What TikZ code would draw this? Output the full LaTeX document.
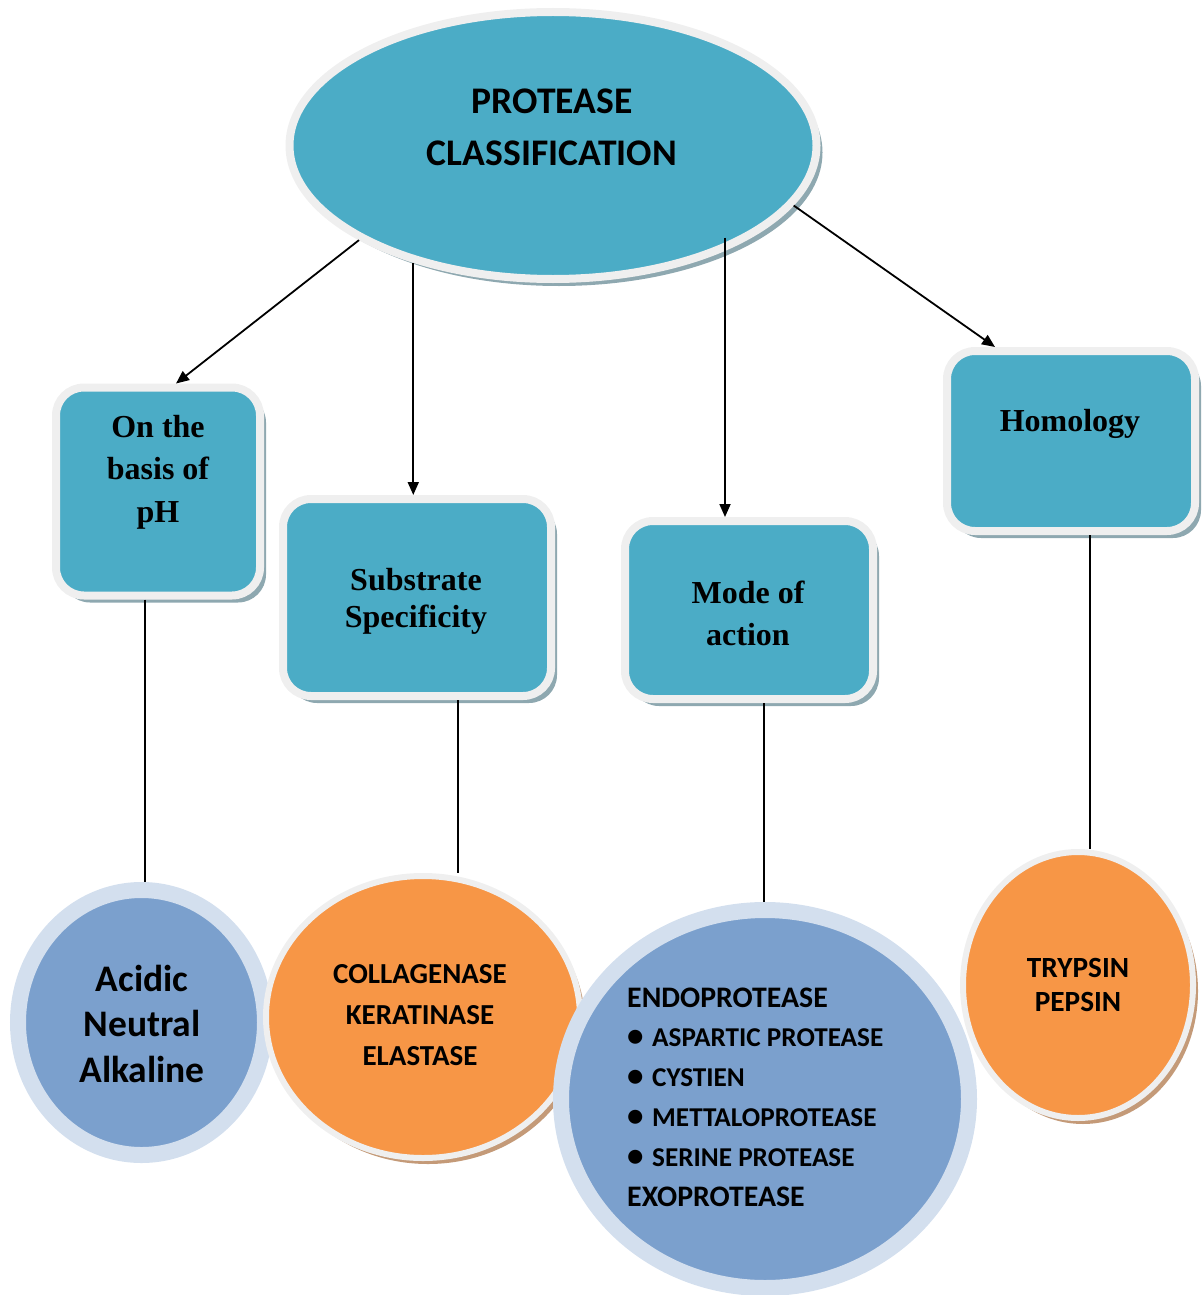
\documentclass[tikz,border=0pt]{standalone}
\usepackage{fontspec}
\setmainfont{Liberation Serif}
\newfontfamily\calfont{Carlito}
\usetikzlibrary{arrows.meta,shapes.geometric,shadows}
\definecolor{tealF}{HTML}{4BACC6}
\definecolor{bandG}{HTML}{EFEFEF}
\definecolor{shadT}{HTML}{8EA8B0}
\definecolor{orgF}{HTML}{F79646}
\definecolor{shadO}{HTML}{C49A78}
\definecolor{bluF}{HTML}{7BA0CD}
\definecolor{bluB}{HTML}{D3DFEE}
\tikzset{
  tealbox/.style={draw=bandG, line width=8pt, fill=tealF, rounded corners=28pt, inner sep=0pt,
    drop shadow={shadow xshift=6pt, shadow yshift=-7pt, fill=shadT, opacity=1}},
  rootell/.style={ellipse, draw=bandG, line width=8pt, fill=tealF, inner sep=0pt,
    drop shadow={shadow xshift=6pt, shadow yshift=-7pt, fill=shadT, opacity=1}},
  orgcirc/.style={ellipse, draw=bandG, line width=6pt, fill=orgF, inner sep=0pt,
    drop shadow={shadow xshift=5pt, shadow yshift=-6pt, fill=shadO, opacity=1}},
  blucirc/.style={ellipse, draw=bluB, line width=16pt, fill=bluF, inner sep=0pt},
  serifT/.style={align=center, inner sep=0pt},
  calT/.style={align=center, inner sep=0pt},
  arr/.style={line width=1.8pt, -{Triangle[length=13pt,width=11pt]}},
  ln/.style={line width=1.8pt},
}
\newcommand{\blt}{\makebox[25pt][l]{\hspace{0pt}{\fontsize{33}{0}\selectfont\textbullet}}}
\begin{document}
\begin{tikzpicture}[x=1pt,y=-1pt]
\useasboundingbox (0,0) rectangle (1204,1295);

% top ellipse
\node[rootell, minimum width=527pt, minimum height=267pt] (root) at (553,145.5) {};
\node[calT, font={\calfont\bfseries\fontsize{37.6}{52}\selectfont}] (rootT) at (552,127) {PROTEASE\\CLASSIFICATION};

% category boxes
\node[tealbox, minimum width=204pt, minimum height=208pt] (ph) at (158,491.5) {};
\node[serifT, font={\bfseries\fontsize{32}{42.5}\selectfont}] (phT) at (158,472) {On the\\basis of\\pH};

\node[tealbox, minimum width=268pt, minimum height=197pt] (sub) at (417,597.5) {};
\node[serifT, font={\bfseries\fontsize{32}{37}\selectfont}] (subT) at (416,601) {Substrate\\Specificity};

\node[tealbox, minimum width=248pt, minimum height=178pt] (mode) at (749,610) {};
\node[serifT, font={\bfseries\fontsize{32}{42}\selectfont}] (modeT) at (748,613) {Mode of\\action};

\node[tealbox, minimum width=248pt, minimum height=180pt] (homo) at (1071,441) {};
\node[serifT, font={\bfseries\fontsize{32}{37}\selectfont}] (homoT) at (1070,424) {Homology};

% bottom circles
\node[blucirc, minimum width=247pt, minimum height=265pt] (acid) at (141.5,1022.5) {};
\node[calT, font={\calfont\bfseries\fontsize{37.5}{45.5}\selectfont}] (acidT) at (142,1023.5) {Acidic\\Neutral\\Alkaline};

\node[orgcirc, minimum width=314pt, minimum height=282pt] (colla) at (423,1017) {};
\node[calT, font={\calfont\bfseries\fontsize{29}{41}\selectfont}] (collaT) at (420,1015) {COLLAGENASE\\KERATINASE\\ELASTASE};

\node[blucirc, minimum width=408pt, minimum height=378pt] (endo) at (765,1099) {};
\node[calT, align=left, anchor=west, font={\calfont\bfseries\fontsize{27.2}{39.8}\selectfont}] (endoT) at (627,1097)
  {{\fontsize{29.8}{39.8}\selectfont ENDOPROTEASE}\\
   \blt ASPARTIC PROTEASE\\
   \blt CYSTIEN\\
   \blt METTALOPROTEASE\\
   \blt SERINE PROTEASE\\
   {\fontsize{29.8}{39.8}\selectfont EXOPROTEASE}};

\node[orgcirc, minimum width=230pt, minimum height=266pt] (tryp) at (1078,985) {};
\node[calT, font={\calfont\bfseries\fontsize{29.3}{34}\selectfont}] (trypT) at (1078,985) {TRYPSIN\\PEPSIN};

% arrows from the root
\draw[arr] (root.206) -- ([xshift=18pt]ph.north);
\draw[arr] (root.220) -- (root.220 |- sub.north);
\coordinate (m1) at ([xshift=172pt,yshift=-92pt]root.center);
\draw[arr] (m1) -- (m1 |- mode.north);
\draw[arr] (root.346.5) -- ([xshift=-76pt]homo.north);

% lines from boxes to circles
\coordinate (p1) at ([xshift=-13pt]ph.south);
\draw[ln] (p1) -- (p1 |- acid.north);
\coordinate (p2) at ([xshift=41pt]sub.south);
\draw[ln] (p2) -- (p2 |- colla.north);
\coordinate (p3) at ([xshift=15pt]mode.south);
\draw[ln] (p3) -- (p3 |- endo.north);
\coordinate (p4) at ([xshift=19pt]homo.south);
\draw[ln] (p4) -- (p4 |- tryp.north);
\end{tikzpicture}
\end{document}
